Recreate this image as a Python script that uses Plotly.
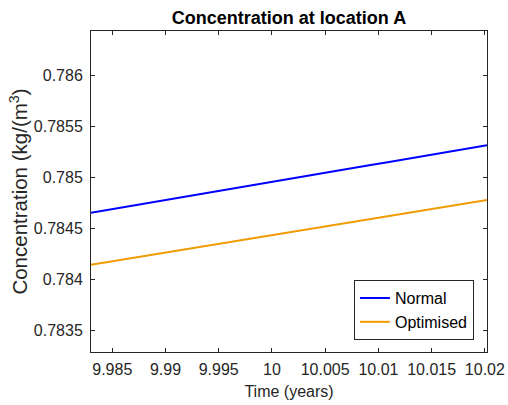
import plotly.graph_objects as go

time_years = [9.983, 9.985, 9.987, 9.989, 9.991, 9.993, 9.995, 9.997, 9.999,
              10.001, 10.003, 10.005, 10.007, 10.009, 10.011, 10.013, 10.015,
              10.017, 10.019, 10.0202]
normal = [0.784656, 0.784692, 0.784727, 0.784763, 0.784798, 0.784834, 0.784869,
          0.784905, 0.784940, 0.784976, 0.785011, 0.785047, 0.785082, 0.785118,
          0.785153, 0.785189, 0.785224, 0.785260, 0.785295, 0.785317]
optimised = [0.784146, 0.784180, 0.784214, 0.784248, 0.784282, 0.784316, 0.784350,
             0.784385, 0.784419, 0.784453, 0.784487, 0.784521, 0.784555, 0.784589,
             0.784623, 0.784657, 0.784691, 0.784725, 0.784759, 0.784780]

x_ticks = [9.985, 9.99, 9.995, 10, 10.005, 10.01, 10.015, 10.02]
x_tick_labels = ["9.985", "9.99", "9.995", "10", "10.005", "10.01", "10.015", "10.02"]
y_ticks = [0.7835, 0.784, 0.7845, 0.785, 0.7855, 0.786]
y_tick_labels = ["0.7835", "0.784", "0.7845", "0.785", "0.7855", "0.786"]

axis_color = "#262626"
font_family = "Liberation Sans, Arial, sans-serif"

fig = go.Figure()
fig.add_trace(go.Scatter(x=time_years, y=normal, mode="lines", name="Normal",
                         line=dict(color="rgb(0,0,255)", width=2)))
fig.add_trace(go.Scatter(x=time_years, y=optimised, mode="lines", name="Optimised",
                         line=dict(color="rgb(240,155,0)", width=2)))

fig.update_layout(
    width=508, height=405,
    margin=dict(l=91, r=21, t=31, b=53, autoexpand=False),
    paper_bgcolor="white", plot_bgcolor="white",
    font=dict(family=font_family, size=16, color=axis_color),
    title=dict(text="<b>Concentration at location A</b>", x=289 / 508, xref="container",
               xanchor="center", y=1 - 17.5 / 405, yref="container", yanchor="middle",
               font=dict(family=font_family, size=18, color="black")),
    showlegend=True,
    legend=dict(x=0.967, y=0.037, xanchor="right", yanchor="bottom",
                bgcolor="white", bordercolor=axis_color, borderwidth=1,
                font=dict(size=16, color="black"), tracegroupgap=0,
                itemwidth=30),
)
fig.update_xaxes(
    range=[9.983, 10.0202], tickvals=x_ticks, ticktext=x_tick_labels,
    tickfont=dict(size=16, color=axis_color), ticklabelstandoff=3,
    ticks="inside", ticklen=4, tickcolor=axis_color, showline=True,
    linecolor=axis_color, linewidth=1, mirror="ticks", showgrid=False,
    zeroline=False, automargin=False,
    title=dict(text="Time (years)", standoff=8, font=dict(size=16, color=axis_color)),
)
fig.update_yaxes(
    range=[0.783292, 0.786436], tickvals=y_ticks, ticktext=y_tick_labels,
    tickfont=dict(size=16, color=axis_color), ticklabelstandoff=4,
    ticks="inside", ticklen=4, tickcolor=axis_color, showline=True,
    linecolor=axis_color, linewidth=1, mirror="ticks", showgrid=False,
    zeroline=False, automargin=False,
    title=dict(text="Concentration (kg/(m<sup>3</sup>)", standoff=0,
               font=dict(size=20.5, color=axis_color)),
)

fig.write_html(
    "out.html",
    config={"displayModeBar": False},
    post_script="document.body.style.margin='0';document.body.style.overflow='hidden';",
)
